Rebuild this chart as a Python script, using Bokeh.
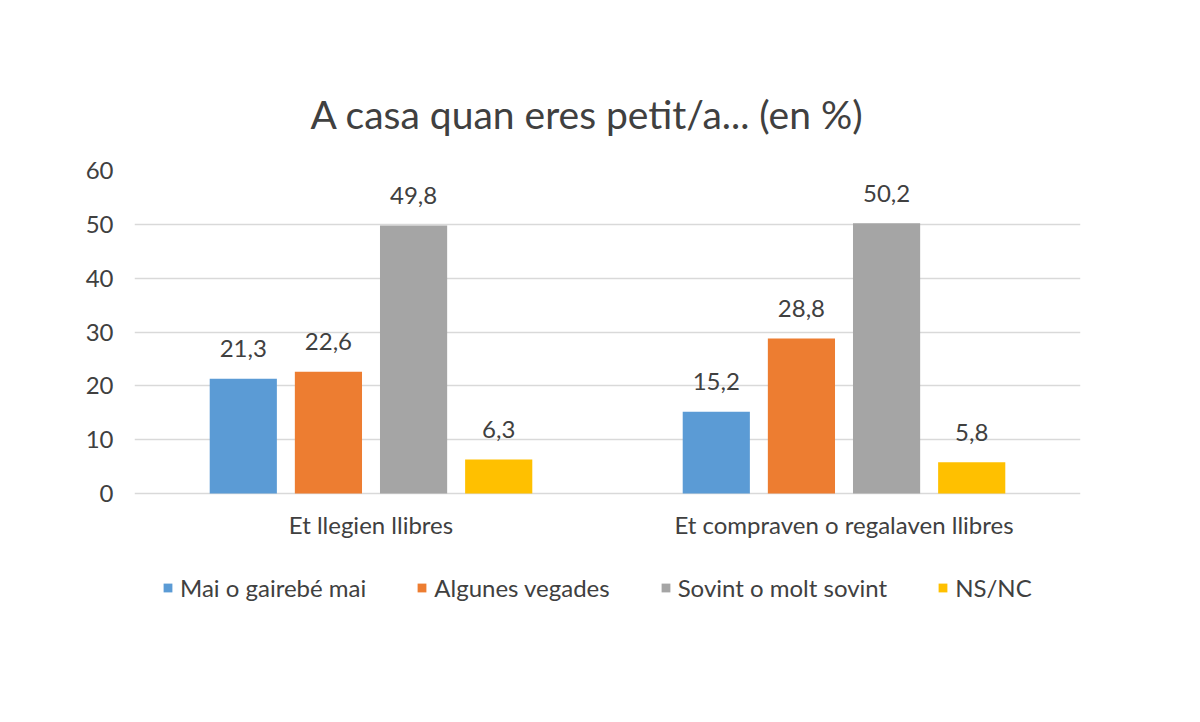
from bokeh.plotting import figure
from bokeh.models import ColumnDataSource, FactorRange, Range1d, Legend, LegendItem
from bokeh.transform import dodge
from bokeh.core.properties import value
from bokeh.embed import file_html
from bokeh.resources import INLINE

categories = ["Et llegien llibres", "Et compraven o regalaven llibres"]
series_names = ["Mai o gairebé mai", "Algunes vegades", "Sovint o molt sovint", "NS/NC"]
mai = [21.3, 15.2]
algunes = [22.6, 28.8]
sovint = [49.8, 50.2]
nsnc = [6.3, 5.8]
colors = ["#5b9bd5", "#ed7d31", "#a5a5a5", "#ffc000"]
title_text = "A casa quan eres petit/a... (en %)"
y_ticks = [0, 10, 20, 30, 40, 50, 60]

FONT = "Lato"
TXT = "#404040"
FS = "24px"

series = [mai, algunes, sovint, nsnc]
data = {"cat": categories}
for i, s in enumerate(series):
    data[f"s{i}"] = s
    data[f"l{i}"] = [f"{v:.1f}".replace(".", ",") for v in s]
src = ColumnDataSource(data)

# frame: 0 at y=493, 60 at y=170, frame extended down to y=640 to host the legend
PX_PER_UNIT = 323 / 60
y_min = -(640 - 493) / PX_PER_UNIT

p = figure(x_range=FactorRange(*categories, range_padding=0), y_range=Range1d(y_min, 60),
           frame_width=946, frame_height=470, output_backend="svg", toolbar_location=None,
           min_border_left=134, min_border_right=104, min_border_top=170, min_border_bottom=10,
           title=title_text)
p.outline_line_color = None
p.background_fill_color = "white"
p.border_fill_color = "white"
p.title.align = "left"
p.title.offset = 176
p.title.standoff = 67
p.title.text_font = FONT
p.title.text_font_size = "39px"
p.title.text_font_style = "normal"
p.title.text_color = TXT

offsets = [-0.27, -0.09, 0.09, 0.27]
renderers = []
for i in range(4):
    r = p.vbar(x=dodge("cat", offsets[i], range=p.x_range), top=f"s{i}", width=0.142,
               source=src, fill_color=colors[i], line_color=None)
    renderers.append(r)
    p.text(x=dodge("cat", offsets[i], range=p.x_range), y=f"s{i}", text=f"l{i}", source=src,
           text_align="center", text_baseline="middle", y_offset=-30,
           text_font=value(FONT), text_font_size=FS, text_color=TXT)

p.ygrid.grid_line_color = "#d9d9d9"
p.ygrid.grid_line_width = 1.5
p.xgrid.grid_line_color = None
p.yaxis.ticker = y_ticks
p.yaxis.axis_line_color = None
p.yaxis.major_tick_line_color = None
p.yaxis.minor_tick_line_color = None
p.yaxis.major_label_standoff = 15
p.yaxis.major_label_text_font = FONT
p.yaxis.major_label_text_font_size = FS
p.yaxis.major_label_text_color = TXT
p.xaxis.fixed_location = 0
p.xaxis.axis_line_color = None
p.xaxis.major_tick_line_color = None
p.xaxis.major_label_standoff = 10
p.xaxis.major_label_text_font = FONT
p.xaxis.major_label_text_font_size = FS
p.xaxis.major_label_text_color = TXT

lg = Legend(items=[LegendItem(label=series_names[i], renderers=[renderers[i]]) for i in range(4)],
            location=(28, 38), orientation="horizontal",
            border_line_color=None, background_fill_alpha=0, padding=0, margin=0,
            spacing=50, glyph_width=11, glyph_height=11, label_standoff=7,
            label_text_font=FONT, label_text_font_size=FS, label_text_color=TXT)
p.add_layout(lg, "center")

open("out.html", "w").write(file_html(p, INLINE))
